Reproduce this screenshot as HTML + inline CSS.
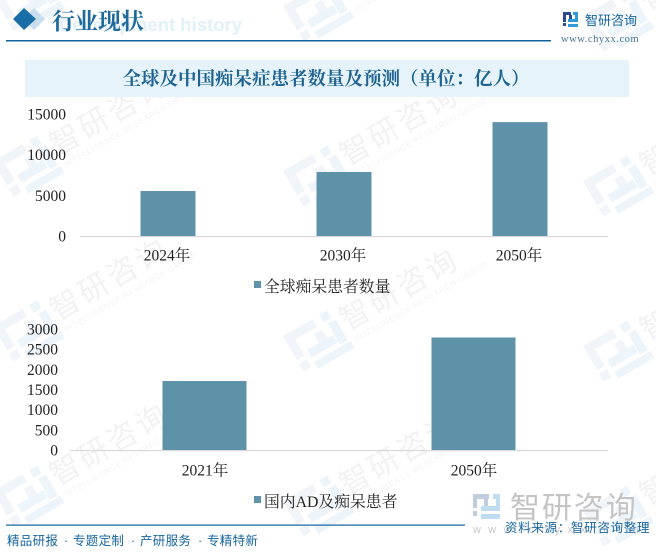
<!DOCTYPE html>
<html lang="zh">
<head>
<meta charset="utf-8">
<title>行业现状</title>
<style>
html,body{margin:0;padding:0;background:#fff;}
#stage{position:relative;width:656px;height:556px;overflow:hidden;}
svg{position:absolute;left:0;top:0;}
.ser{font-family:"Liberation Serif","Noto Serif CJK SC",serif;}
.san{font-family:"Liberation Sans","Noto Sans CJK SC",sans-serif;}
</style>
</head>
<body>
<div id="stage">
<svg id="svg" width="656" height="556" viewBox="0 0 656 556" xmlns="http://www.w3.org/2000/svg">
  <g id="wm"></g>

  <text x="242" y="31" text-anchor="end" class="san" font-size="18.5" font-weight="700" fill="#e2f0fa">Development history</text>
  <polygon points="34,8 45,19 34,30 23,19" fill="#c9deec"/>
  <polygon points="24,8 36,19 24,30 13,19" fill="#1a6ea8"/>
  <text x="52" y="29" class="ser" font-size="23" font-weight="700" fill="#1f6a9c">行业现状</text>
  <rect x="6" y="40" width="545" height="1.5" fill="#10629b"/>

  <g>
    <rect x="563" y="12" width="8" height="3" fill="#2b4a94"/>
    <rect x="563" y="12" width="3" height="10" fill="#2b4a94"/>
    <rect x="563" y="23" width="3" height="3" fill="#2b4a94"/>
    <rect x="569" y="15" width="3" height="6" fill="#2b4a94"/>
    <rect x="573" y="12" width="5" height="3" fill="#2e9ad6"/>
    <rect x="575" y="15" width="3" height="5" fill="#2e9ad6"/>
    <rect x="568" y="19" width="10" height="3" fill="#2e9ad6"/>
    <rect x="568" y="24" width="10" height="3" fill="#2e9ad6"/>
  </g>
  <text x="585" y="25" class="san" font-size="13" fill="#17659e">智研咨询</text>
  <text x="561" y="42" class="ser" font-size="10.5" letter-spacing="0.55" fill="#4a7397">www.chyxx.com</text>

  <rect x="25" y="60" width="604" height="37" fill="#e6f3fb"/>
  <text x="326" y="85" text-anchor="middle" class="ser" font-size="18.5" font-weight="700" fill="#1f6391">全球及中国痴呆症患者数量及预测（单位：亿人）</text>

  <g id="chartA"></g>
  <g id="chartB"></g>

  <g opacity="0.55">
    <rect x="473" y="494" width="16" height="5" fill="#8fa3c4"/>
    <rect x="473" y="494" width="4" height="14" fill="#8fa3c4"/>
    <rect x="473" y="511" width="4" height="5" fill="#8fa3c4"/>
    <rect x="484" y="499" width="4" height="8" fill="#8fa3c4"/>
    <rect x="493" y="494" width="7" height="5" fill="#8cc0e6"/>
    <rect x="496" y="499" width="4" height="7" fill="#8cc0e6"/>
    <rect x="481" y="506" width="19" height="5" fill="#8cc0e6"/>
    <rect x="481" y="514" width="19" height="5" fill="#8cc0e6"/>
  </g>
  <text x="510" y="518" class="san" font-size="30" letter-spacing="1.9" fill="#c4c4c4">智研咨询</text>
  <text x="473" y="533" class="san" font-size="11" letter-spacing="7.3" fill="#c9c9c9">www.chyxx.com</text>

  <rect x="6" y="524.5" width="459" height="1.2" fill="#10629b"/>
  <text y="545" class="san" font-size="12.5" letter-spacing="0.3" fill="#17659e"><tspan x="7">精品研报</tspan><tspan x="64">·</tspan><tspan x="73">专题定制</tspan><tspan x="131">·</tspan><tspan x="140">产研服务</tspan><tspan x="198">·</tspan><tspan x="207">专精特新</tspan></text>
  <text x="505" y="532" class="san" font-size="12.5" letter-spacing="0.7" fill="#17659e">资料来源：智研咨询整理</text>
</svg>
</div>
<script>
// Chart A: global dementia patients
var categoriesA = ['2024年', '2030年', '2050年'];
var valuesA = [5530, 7870, 14000];
var ticksA = [0, 5000, 10000, 15000];
var legendA = '全球痴呆患者数量';

// Chart B: China AD and dementia patients
var categoriesB = ['2021年', '2050年'];
var valuesB = [1710, 2790];
var ticksB = [0, 500, 1000, 1500, 2000, 2500, 3000];
var legendB = '国内AD及痴呆患者';

var NS = 'http://www.w3.org/2000/svg';
var BAR = '#5e92a9';
var INK = '#222222';

function node(parent, tag, attrs, text) {
  var el = document.createElementNS(NS, tag);
  for (var k in attrs) el.setAttribute(k, attrs[k]);
  if (text !== undefined) el.textContent = text;
  parent.appendChild(el);
  return el;
}

function drawChart(root, cfg) {
  var yMax = cfg.ticks[cfg.ticks.length - 1];
  function y(v) { return cfg.y0 - v / yMax * (cfg.y0 - cfg.yTop); }
  var band = (cfg.x1 - cfg.x0) / cfg.categories.length;
  function xc(i) { return cfg.x0 + band * (i + 0.5); }

  cfg.ticks.forEach(function (t) {
    var lab = node(root, 'text', {x: cfg.labelX, y: y(t) + 5.5, 'text-anchor': 'end', 'class': 'ser', 'font-size': 15.5, fill: INK}, String(t));
    
    
  });

  cfg.values.forEach(function (v, i) {
    var r = node(root, 'rect', {x: xc(i) - cfg.barW / 2, y: y(v), width: cfg.barW, height: cfg.y0 - y(v), fill: BAR});
    
    
  });

  var axis = node(root, 'rect', {x: cfg.x0, y: cfg.y0, width: cfg.x1 - cfg.x0, height: 1.2, fill: '#d9d9d9'});
  
  

  cfg.categories.forEach(function (c, i) {
    var lab = node(root, 'text', {x: xc(i) + cfg.labelShift, y: cfg.y0 + cfg.catDy, 'text-anchor': 'middle', 'class': 'ser', 'font-size': 15.5, fill: INK}, c);
    
    
  });

  var swatch = node(root, 'rect', {x: 254, y: cfg.legendY - 11, width: 7, height: 7, fill: BAR});
  
  
  var leg = node(root, 'text', {x: 264, y: cfg.legendY, 'class': 'ser', 'font-size': 15.8, fill: INK}, cfg.legend);
  
  
}

drawChart(document.getElementById('chartA'), {
  categories: categoriesA, values: valuesA, ticks: ticksA, legend: legendA,
  x0: 80, x1: 608, y0: 236, yTop: 114, barW: 55, labelX: 66, legendY: 292, labelShift: -1, catDy: 24.5
});
drawChart(document.getElementById('chartB'), {
  categories: categoriesB, values: valuesB, ticks: ticksB, legend: legendB,
  x0: 70, x1: 608, y0: 450, yTop: 329, barW: 84, labelX: 58, legendY: 507, labelShift: 0.5, catDy: 25.5
});

// Repeating background watermark
var wm = document.getElementById('wm');
[[-7, -4], [283, 6], [583, 16], [-7, 161], [283, 171], [583, 181], [-7, 326], [283, 336], [583, 346], [-7, 491], [283, 501], [583, 511]].forEach(function (p) {
  var g = node(wm, 'g', {transform: 'translate(' + p[0] + ',' + p[1] + ') rotate(-30)'});
  
  
  node(g, 'path', {d: 'M0 0h34v9h-25v19h-9zM28 14h9v17h-9zM0 32h9v9h-9z', fill: '#f1f4f8'});
  node(g, 'path', {d: 'M42 0h9v9h-9zM45 12h9v24h-9zM14 24h30v9h-30zM14 38h42v8h-42z', fill: '#edf5fb'});
  var t = node(g, 'text', {x: 58, y: 28, 'class': 'san', 'font-size': 30, 'letter-spacing': 3, fill: '#f2f2f2'}, '智研咨询');
  
  
  var s = node(g, 'text', {x: 60, y: 42, 'class': 'san', 'font-size': 8, 'letter-spacing': 0.6, fill: '#f3f3f3'}, 'INTELLIGENCE RESEARCH GROUP');
  
  
});
</script>
</body>
</html>
